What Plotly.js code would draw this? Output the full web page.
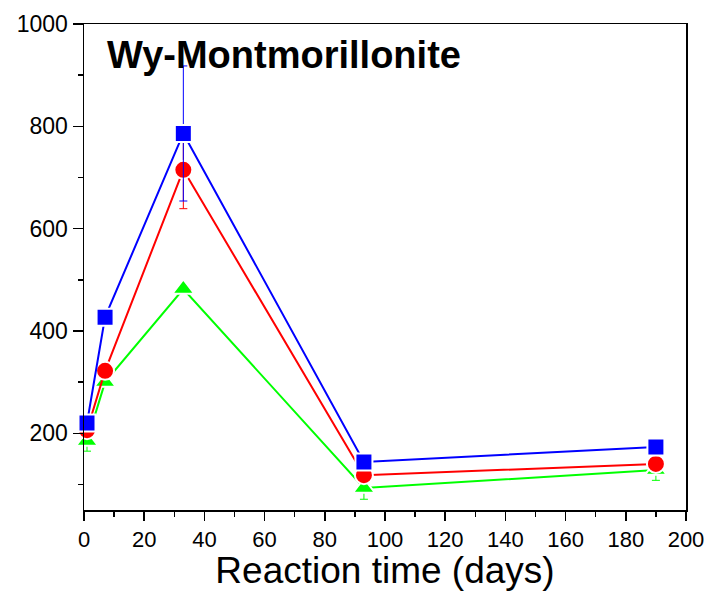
<!DOCTYPE html>
<html>
<head>
<meta charset="utf-8">
<script src="https://cdn.plot.ly/plotly-3.0.1.min.js"></script>
<style>html,body{margin:0;padding:0;background:#fff}#chart{width:719px;height:591px}</style>
</head>
<body>
<div id="chart"></div>
<script>
var days = [1, 7, 33, 93, 190];
var blueVals = [220, 427, 786, 144, 173];
var blueErr = [0, 0, 132, 0, 0];
var redVals = [206, 322, 715, 118, 140];
var redErr = [0, 0, 76, 0, 5];
var greenVals = [185, 300, 482, 93, 128];
var greenErr = [20, 8, 8, 22, 20];
var chartTitle = "Wy-Montmorillonite";
var xTitle = "Reaction time (days)";

function series(y, err, color, symbol, size) {
  return {
    x: days, y: y, type: 'scatter', mode: 'lines+markers',
    line: {color: color, width: 2},
    marker: {color: color, symbol: symbol, size: size, line: {color: '#ffffff', width: 2}},
    error_y: {type: 'data', array: err, visible: true, color: color, thickness: 1, width: 4},
    cliponaxis: false, showlegend: false
  };
}

var data = [
  series(greenVals, greenErr, '#00ff00', 'triangle-up', 19),
  series(redVals, redErr, '#ff0000', 'circle', 18),
  series(blueVals, blueErr, '#0000ff', 'square', 17)
];

var layout = {
  width: 719, height: 591,
  margin: {l: 84, r: 33, t: 24, b: 81},
  paper_bgcolor: '#fff', plot_bgcolor: '#fff',
  font: {family: 'Liberation Sans, Arial, sans-serif', color: '#000', size: 24},
  xaxis: {
    range: [0, 200], tick0: 0, dtick: 20, showgrid: false, zeroline: false,
    showline: true, linecolor: '#000', linewidth: 1.5, mirror: true,
    ticks: 'outside', ticklen: 9, tickwidth: 1.5, tickcolor: '#000',
    minor: {dtick: 10, ticks: 'outside', ticklen: 5, tickwidth: 1.5, tickcolor: '#000'},
    tickfont: {size: 22},
    title: {text: xTitle, font: {size: 37}, standoff: 3}
  },
  yaxis: {
    range: [50, 1000], tick0: 0, dtick: 200, showgrid: false, zeroline: false,
    showline: true, linecolor: '#000', linewidth: 1.5, mirror: true,
    ticks: 'outside', ticklen: 10, tickwidth: 1.5, tickcolor: '#000',
    minor: {dtick: 100, ticks: 'outside', ticklen: 5, tickwidth: 1.5, tickcolor: '#000'},
    tickfont: {size: 23}
  },
  annotations: [{
    text: '<b>' + chartTitle + '</b>', xref: 'paper', yref: 'paper',
    x: 0.035, y: 0.937, xanchor: 'left', yanchor: 'middle', showarrow: false,
    font: {size: 38, color: '#000'}
  }]
};

Plotly.newPlot('chart', data, layout, {displayModeBar: false, staticPlot: true});
</script>
</body>
</html>
